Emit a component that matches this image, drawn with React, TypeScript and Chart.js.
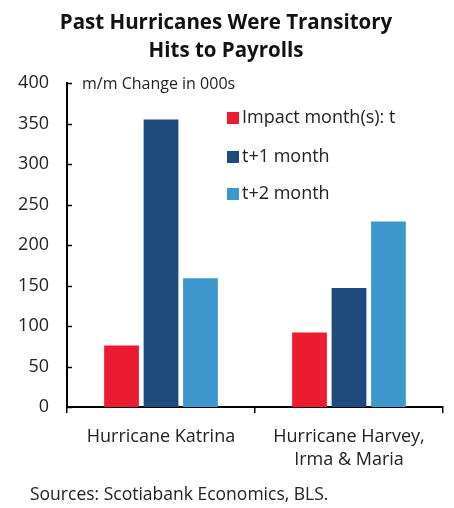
import React, { useEffect, useRef } from "react";
import { Chart, registerables } from "chart.js";

Chart.register(...registerables);

const categories: (string | string[])[] = ["Hurricane Katrina", ["Hurricane Harvey,", "Irma & Maria"]];
const seriesNames = ["Impact month(s): t", "t+1 month", "t+2 month"];
const impactMonth = [76, 92];
const tPlus1 = [355, 147];
const tPlus2 = [159, 229];
const colors = ["#ED1B2F", "#1F4A7C", "#3E97CC"];
const titleLines = ["Past Hurricanes Were Transitory", "Hits to Payrolls"];
const yAxisLabel = "m/m Change in 000s";
const sourceText = "Sources: Scotiabank Economics, BLS.";

const FONT = "'Open Sans', sans-serif";

const extrasPlugin = {
  id: "extras",
  afterDraw(chart: any) {
    const ctx = chart.ctx;
    const area = chart.chartArea;
    const y = chart.scales.y;
    ctx.save();
    ctx.strokeStyle = "#000";
    ctx.lineWidth = 1.5;
    for (let v = 0; v <= 400; v += 50) {
      const py = Math.round(y.getPixelForValue(v)) + 0.5;
      ctx.beginPath();
      ctx.moveTo(area.left, py);
      ctx.lineTo(area.left + 5, py);
      ctx.stroke();
    }
    ctx.fillStyle = "#111";
    ctx.textAlign = "center";
    ctx.textBaseline = "middle";
    ctx.font = `bold 20.5px ${FONT}`;
    ctx.fillText(titleLines[0], 226, 23);
    ctx.fillText(titleLines[1], 226, 51);
    ctx.font = `16px ${FONT}`;
    ctx.textAlign = "left";
    ctx.fillStyle = "#222";
    ctx.fillText(yAxisLabel, 82, 84);
    const ly = [118, 157, 194];
    seriesNames.forEach((name, i) => {
      ctx.fillStyle = colors[i];
      ctx.fillRect(227, ly[i] - 6, 12, 12);
      ctx.fillStyle = "#222";
      ctx.font = `18px ${FONT}`;
      ctx.fillText(name, 242, ly[i]);
    });
    ctx.font = `17.5px ${FONT}`;
    ctx.fillText(sourceText, 30, 495);
    ctx.restore();
  },
};

export default function App() {
  const ref = useRef<HTMLCanvasElement | null>(null);
  useEffect(() => {
    if (!ref.current) return;
    const chart = new Chart(ref.current, {
      type: "bar",
      data: {
        labels: categories as any,
        datasets: [
          { label: seriesNames[0], data: impactMonth, backgroundColor: colors[0] },
          { label: seriesNames[1], data: tPlus1, backgroundColor: colors[1] },
          { label: seriesNames[2], data: tPlus2, backgroundColor: colors[2] },
        ],
      },
      options: {
        animation: false,
        responsive: false,
        maintainAspectRatio: false,
        layout: { padding: { top: 83, right: 11, bottom: 0, left: 0 } },
        plugins: { legend: { display: false }, tooltip: { enabled: false }, title: { display: false } },
        datasets: { bar: { categoryPercentage: 0.63, barPercentage: 0.88 } },
        scales: {
          x: {
            offset: true,
            grid: { display: true, drawOnChartArea: false, offset: true, tickLength: 6, color: "#000", lineWidth: 1.5 },
            border: { display: true, color: "#000", width: 2 },
            ticks: { color: "#222", font: { family: FONT, size: 18, lineHeight: 1.3 }, padding: 12, maxRotation: 0, autoSkip: false },
            afterFit: (s: any) => { s.height = 101; },
          },
          y: {
            min: 0,
            max: 400,
            ticks: { stepSize: 50, color: "#222", font: { family: FONT, size: 18 }, padding: 10 },
            grid: { display: false },
            border: { display: true, color: "#000", width: 2 },
            afterFit: (s: any) => { s.width = 67; },
          },
        },
      },
      plugins: [extrasPlugin],
    });
    return () => chart.destroy();
  }, []);
  return (
    <div style={{ position: "fixed", left: 0, top: 0, width: 454, height: 508, background: "#fff" }}>
      <canvas ref={ref} width={454} height={508} />
    </div>
  );
}
